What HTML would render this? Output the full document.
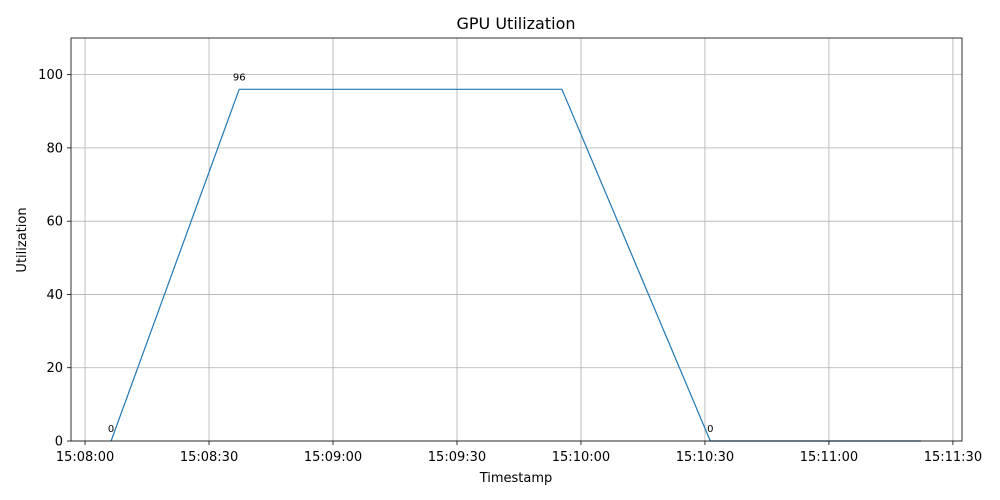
<!DOCTYPE html>
<html><head><meta charset="utf-8"><style>
html,body{margin:0;padding:0;background:#fff;}
svg{display:block;font-family:"DejaVu Sans","Liberation Sans",sans-serif;}
</style></head><body>
<svg id="chart" width="1000" height="500" viewBox="0 0 1000 500">
<rect width="1000" height="500" fill="#fff"/>
<g id="grid"></g>
<g id="series"></g>
<g id="axes"></g>
<text x="516" y="29" text-anchor="middle" font-size="16">GPU Utilization</text>
<text x="516" y="482" text-anchor="middle" font-size="13">Timestamp</text>
<text x="26" y="240" text-anchor="middle" font-size="13" transform="rotate(-90 26 240)">Utilization</text>
</svg>
<script>
// seconds after 15:08:00
const times = [6.3, 37.3, 115.4, 151.3, 202.3];
const values = [0, 96, 96, 0, 0];
const annotated = [0, 1, 3];
const xTicks = [0, 30, 60, 90, 120, 150, 180, 210];
const xTickLabels = ["15:08:00","15:08:30","15:09:00","15:09:30","15:10:00","15:10:30","15:11:00","15:11:30"];
const yTicks = [0, 20, 40, 60, 80, 100];

const L=71,R=962,T=38,B=441;
const xMin=-3.4,xMax=212.2,yMin=0,yMax=110;
const X=v=>L+(v-xMin)/(xMax-xMin)*(R-L);
const Y=v=>B-(v-yMin)/(yMax-yMin)*(B-T);
const NS="http://www.w3.org/2000/svg";
function mk(tag,attrs,parent){const e=document.createElementNS(NS,tag);for(const k in attrs)e.setAttribute(k,attrs[k]);parent.appendChild(e);return e;}
const grid=document.getElementById('grid'),axes=document.getElementById('axes'),series=document.getElementById('series');

xTicks.forEach((t,i)=>{
  const x=X(t);
  const g=mk('line',{x1:x,x2:x,y1:T,y2:B,stroke:'#b0b0b0','stroke-width':0.8},grid);
  
  
  mk('line',{x1:x,x2:x,y1:B,y2:B+4,stroke:'#000','stroke-width':0.8},axes);
  const tx=mk('text',{x:x,y:B+20,'text-anchor':'middle','font-size':13},axes);
  tx.textContent=xTickLabels[i];
  
  
});
yTicks.forEach(t=>{
  const y=Y(t);
  const g=mk('line',{x1:L,x2:R,y1:y,y2:y,stroke:'#b0b0b0','stroke-width':0.8},grid);
  
  
  mk('line',{x1:L-4,x2:L,y1:y,y2:y,stroke:'#000','stroke-width':0.8},axes);
  const tx=mk('text',{x:L-8,y:y+4.5,'text-anchor':'end','font-size':13},axes);
  tx.textContent=t;
  
  
});
const frame=mk('rect',{x:L,y:T,width:R-L,height:B-T,fill:'none',stroke:'#000','stroke-width':0.8},axes);



const pts=times.map((t,i)=>X(t)+','+Y(values[i])).join(' ');
const line=mk('polyline',{points:pts,fill:'none',stroke:'#1f77b4','stroke-width':1.2},series);


annotated.forEach(i=>{
  const tx=mk('text',{x:X(times[i]),y:Y(values[i])-9,'text-anchor':'middle','font-size':10},series);
  tx.textContent=values[i];
  
  
});
</script>
</body></html>
